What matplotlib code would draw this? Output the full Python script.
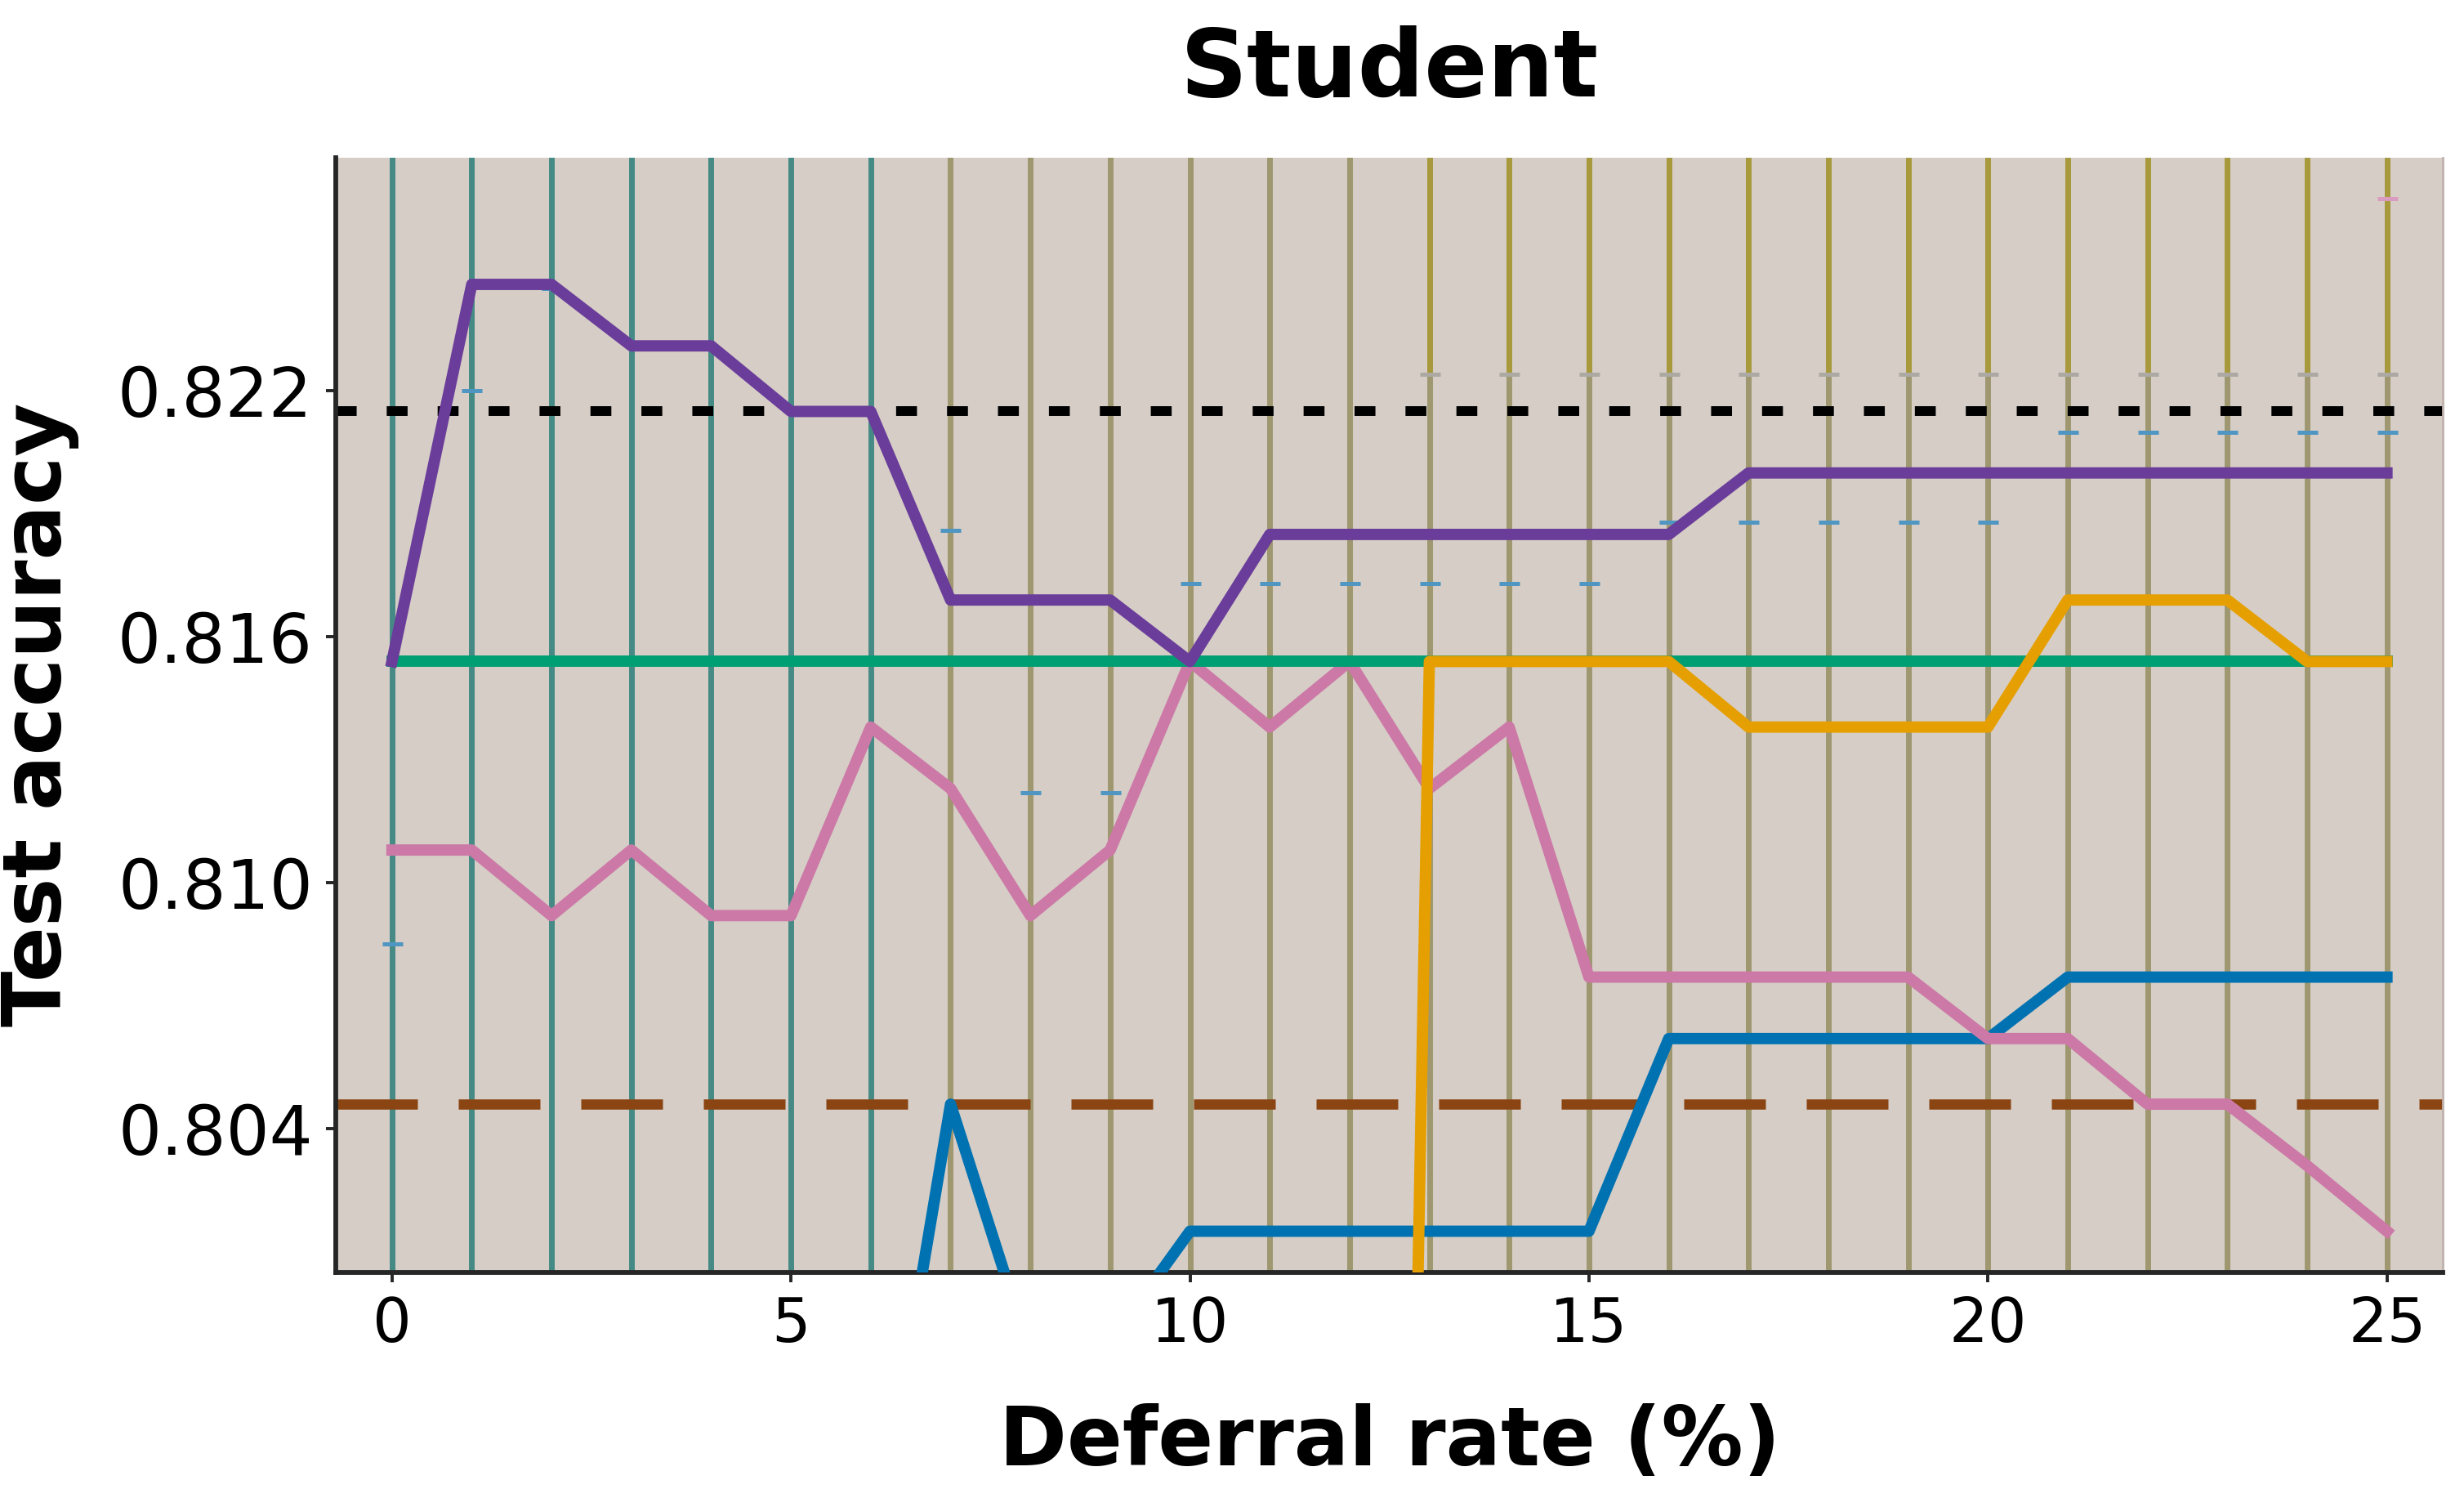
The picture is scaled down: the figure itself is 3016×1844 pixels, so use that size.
import matplotlib
matplotlib.use("Agg")
import matplotlib.pyplot as plt
import numpy as np

# deferral rate (%) on the x axis
rates = np.arange(0, 26)

# test accuracy per method
purple = [0.8154, 0.8246, 0.8246, 0.8231, 0.8231, 0.8215, 0.8215, 0.8169, 0.8169, 0.8169,
          0.8154, 0.8185, 0.8185, 0.8185, 0.8185, 0.8185, 0.8185, 0.8200, 0.8200, 0.8200,
          0.8200, 0.8200, 0.8200, 0.8200, 0.8200, 0.8200]
green = [0.8154] * 26
pink = [0.8108, 0.8108, 0.8092, 0.8108, 0.8092, 0.8092, 0.8138, 0.8123, 0.8092, 0.8108,
        0.8154, 0.8138, 0.8154, 0.8123, 0.8138, 0.8077, 0.8077, 0.8077, 0.8077, 0.8077,
        0.8062, 0.8062, 0.8046, 0.8046, 0.8031, 0.8015]
orange = [0.7100, 0.7100, 0.7100, 0.7100, 0.7100, 0.7100, 0.7100, 0.7100, 0.7100, 0.7100,
          0.7100, 0.7100, 0.7100, 0.8154, 0.8154, 0.8154, 0.8154, 0.8138, 0.8138, 0.8138,
          0.8138, 0.8169, 0.8169, 0.8169, 0.8154, 0.8154]
blue = [0.7930, 0.7930, 0.7930, 0.7930, 0.7930, 0.7930, 0.7930, 0.8046, 0.7985, 0.7988,
        0.8015, 0.8015, 0.8015, 0.8015, 0.8015, 0.8015, 0.8062, 0.8062, 0.8062, 0.8062,
        0.8062, 0.8077, 0.8077, 0.8077, 0.8077, 0.8077]

# reference accuracies (horizontal lines)
ref_dotted = 0.8215
ref_dashed = 0.8046

# error bar caps that fall inside the view
blue_cap_x = [0, 1, 2, 7, 8, 9, 10, 11, 12, 13, 14, 15, 16, 17, 18, 19, 20, 21, 22, 23, 24, 25]
blue_cap_y = [0.8085, 0.8220, 0.8245, 0.8186, 0.8122, 0.8122, 0.8173, 0.8173, 0.8173, 0.8173,
              0.8173, 0.8173, 0.8188, 0.8188, 0.8188, 0.8188, 0.8188, 0.8210, 0.8210, 0.8210,
              0.8210, 0.8210]
orange_cap_x = [13, 14, 15, 16, 17, 18, 19, 20, 21, 22, 23, 24, 25]
orange_cap_y = [0.8224] * 13
pink_cap_x = [25]
pink_cap_y = [0.8267]

# error bars that run across the whole view
teal_err_x = [0, 1, 2, 3, 4, 5, 6]
olive_err_x = [7, 8, 9, 10, 11, 12, 13, 14, 15, 16, 17, 18, 19, 20, 21, 22, 23, 24, 25]

ylo, yhi = 0.8005, 0.8277

fig = plt.figure(figsize=(15.08, 9.22), dpi=200)
ax = fig.add_axes([0.1364, 0.1558, 0.855, 0.7398])
ax.set_facecolor("#d6cdc6")

for xv in teal_err_x:
    ax.axvline(xv, color="#468a86", lw=2.5, zorder=1)
for xv in olive_err_x:
    ax.axvline(xv, color="#9e976f", lw=2.5, zorder=1)
ax.vlines(orange_cap_x, orange_cap_y, yhi, color="#a89a3c", lw=2.5, zorder=1.1)

ax.plot(blue_cap_x, blue_cap_y, ls="none", marker="_", ms=9, mew=1.8, color="#4f96c2", zorder=1.5)
ax.plot(orange_cap_x, orange_cap_y, ls="none", marker="_", ms=9, mew=1.8, color="#aca9a3", zorder=1.5)
ax.plot(pink_cap_x, pink_cap_y, ls="none", marker="_", ms=9, mew=1.8, color="#d99cc0", zorder=1.5)

ax.axhline(ref_dotted, color="black", lw=4.3, dashes=(2.14, 3.08), zorder=2)
ax.axhline(ref_dashed, color="#8b4513", lw=4.5, dashes=(8, 4), zorder=2)

ax.plot(rates, blue, color="#0072b2", lw=5, zorder=3)
ax.plot(rates, pink, color="#cc79a7", lw=5, zorder=3.1)
ax.plot(rates, green, color="#009e73", lw=5, zorder=3.2)
ax.plot(rates, purple, color="#6a3d9a", lw=5, zorder=3.3)
ax.plot(rates, orange, color="#e69f00", lw=5, zorder=3.4)

ax.set_xlim(-0.7, 25.7)
ax.set_ylim(ylo, yhi)
ax.set_xticks([0, 5, 10, 15, 20, 25])
ax.set_yticks([0.804, 0.810, 0.816, 0.822])
ax.set_yticklabels(["0.804", "0.810", "0.816", "0.822"])

ax.spines["top"].set_visible(False)
ax.spines["right"].set_color("#bfb2ac")
ax.spines["right"].set_linewidth(1)
for side in ["left", "bottom"]:
    ax.spines[side].set_color("#262626")
    ax.spines[side].set_linewidth(2.1)
ax.tick_params(axis="both", direction="out", length=4.3, width=1.4, pad=6, color="#262626")
ax.tick_params(axis="x", labelsize=27)
ax.tick_params(axis="y", labelsize=30, right=False)

ax.set_title("Student", fontsize=41, fontweight="bold", pad=27)
ax.set_xlabel("Deferral rate (%)", fontsize=36, fontweight="bold", labelpad=21)
ax.set_ylabel("Test accuracy", fontsize=36, fontweight="bold", labelpad=17)

fig.savefig("out.png", dpi=200)
